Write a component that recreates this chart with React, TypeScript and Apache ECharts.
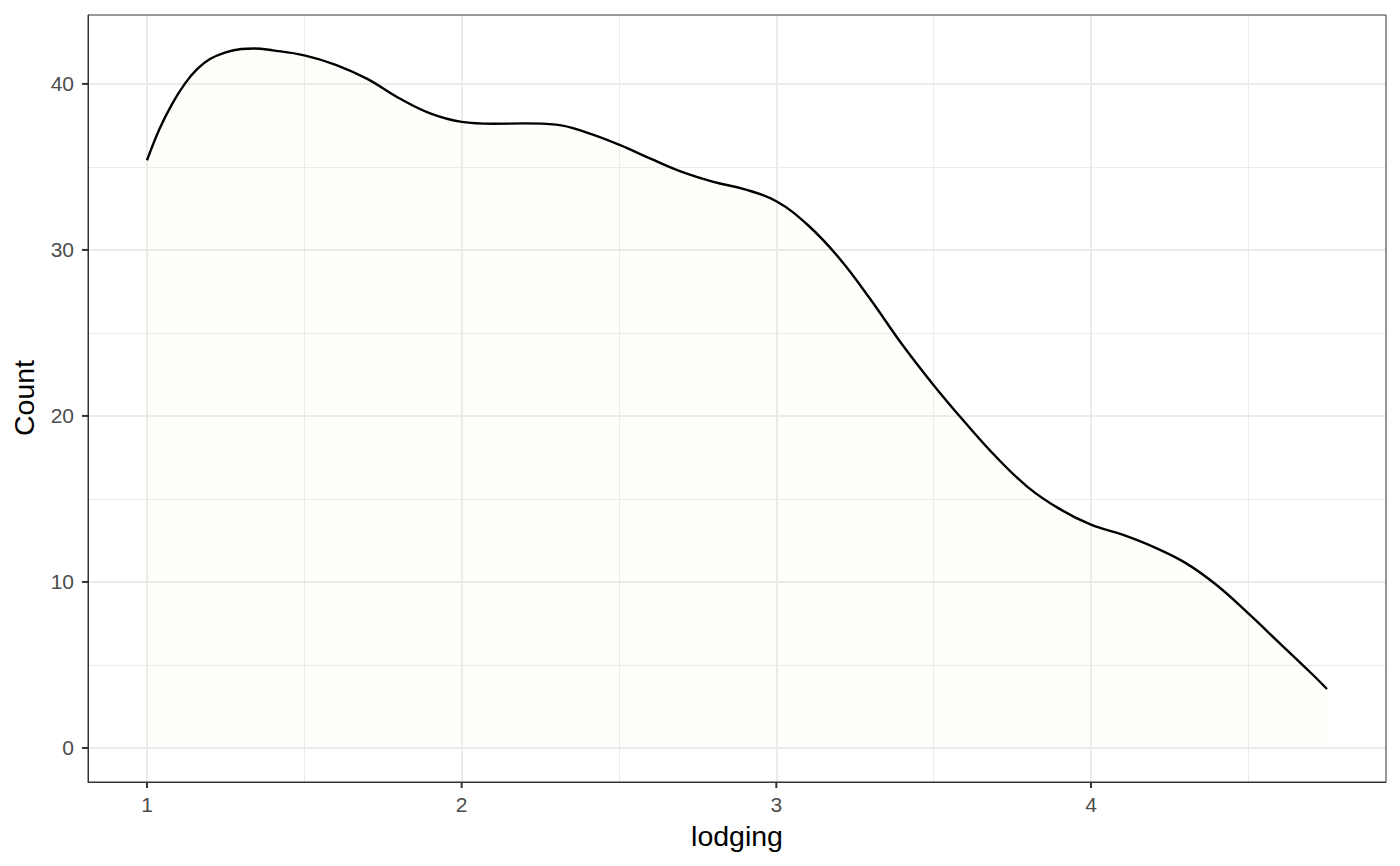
import React, { useEffect, useRef } from "react";
import * as echarts from "echarts";

const lodgingX = [1.0, 1.04, 1.08, 1.12, 1.16, 1.2, 1.25, 1.3, 1.34, 1.4, 1.5, 1.6, 1.7, 1.8, 1.9, 2.0, 2.1, 2.2, 2.3, 2.4, 2.5, 2.6, 2.7, 2.8, 2.9, 3.0, 3.1, 3.2, 3.3, 3.4, 3.5, 3.6, 3.7, 3.8, 3.9, 4.0, 4.1, 4.2, 4.3, 4.4, 4.5, 4.6, 4.7, 4.75];
const countY = [35.4, 37.3, 38.8, 40.0, 40.9, 41.5, 41.9, 42.1, 42.13, 42.02, 41.72, 41.15, 40.3, 39.15, 38.22, 37.71, 37.6, 37.62, 37.55, 37.05, 36.34, 35.5, 34.7, 34.1, 33.65, 32.93, 31.5, 29.5, 27.0, 24.3, 21.85, 19.6, 17.5, 15.7, 14.4, 13.45, 12.85, 12.1, 11.15, 9.8, 8.1, 6.3, 4.5, 3.55];

const xMajor = [1, 2, 3, 4];
const xMinor = [1.5, 2.5, 3.5, 4.5];
const yMajor = [0, 10, 20, 30, 40];
const yMinor = [5, 15, 25, 35];

const FONT = "'Liberation Sans', Arial, Helvetica, sans-serif";

export default function App() {
  const ref = useRef<HTMLDivElement>(null);
  useEffect(() => {
    if (!ref.current) return;
    const chart = echarts.init(ref.current, undefined, { renderer: "svg" });
    const points = lodgingX.map((x, i) => [x, countY[i]]);
    const gridLines: any[] = [
      ...xMinor.map((v) => ({ xAxis: v, lineStyle: { width: 1, color: "#EBEBEB", type: "solid" } })),
      ...yMinor.map((v) => ({ yAxis: v, lineStyle: { width: 1, color: "#EBEBEB", type: "solid" } })),
      ...xMajor.map((v) => ({ xAxis: v, lineStyle: { width: 2, color: "#EBEBEB", type: "solid" } })),
      ...yMajor.map((v) => ({ yAxis: v, lineStyle: { width: 2, color: "#EBEBEB", type: "solid" } })),
    ];
    const axisCommon = {
      type: "value",
      z: 20,
      axisLine: { show: true, onZero: false, lineStyle: { color: "#333333", width: 1 } },
      axisTick: { show: false },
      splitLine: { show: false },
    };
    const titleGraphics: any[] = [
      {
        type: "text",
        x: 24,
        y: 398,
        rotation: Math.PI / 2,
        style: {
          text: "Count",
          fill: "#000000",
          font: `28.5px ${FONT}`,
          align: "center",
          verticalAlign: "middle",
        },
      },
      {
        type: "text",
        x: 737,
        y: 836,
        style: {
          text: "lodging",
          fill: "#000000",
          font: `28.5px ${FONT}`,
          align: "center",
          verticalAlign: "middle",
        },
      },
    ];
    chart.setOption({
      animation: false,
      backgroundColor: "#FFFFFF",
      grid: {
        left: 88,
        right: 14,
        top: 15,
        bottom: 84,
        show: true,
        borderColor: "#333333",
        borderWidth: 1,
        backgroundColor: "transparent",
        z: 10,
      },
      xAxis: {
        ...axisCommon,
        min: 0.8125,
        max: 4.9375,
        axisLabel: {
          customValues: xMajor,
          color: "#4D4D4D",
          fontSize: 21,
          fontFamily: FONT,
          margin: 12,
        },
      },
      yAxis: {
        ...axisCommon,
        min: -2.05,
        max: 44.15,
        axisLabel: {
          customValues: yMajor,
          color: "#4D4D4D",
          fontSize: 21,
          fontFamily: FONT,
          margin: 14,
        },
      },
      series: [
        {
          type: "line",
          z: 1,
          data: [],
          symbol: "none",
          silent: true,
          markLine: {
            z: 1,
            silent: true,
            symbol: ["none", "none"],
            label: { show: false },
            emphasis: { disabled: true },
            data: gridLines,
          },
        },
        {
          type: "line",
          z: 3,
          data: points,
          smooth: 0.4,
          symbol: "none",
          showSymbol: false,
          lineStyle: { color: "#000000", width: 2.4 },
          areaStyle: { color: "rgba(250,240,200,0.13)" },
        },
      ],
      graphic: titleGraphics,
    });

    // axis ticks, positioned through the chart's own scales
    const tickGraphics: any[] = [];
    const bottomPx = chart.convertToPixel({ yAxisIndex: 0 } as any, -2.05) as any as number;
    const leftPx = chart.convertToPixel({ xAxisIndex: 0 } as any, 0.8125) as any as number;
    xMajor.forEach((v) => {
      const px = chart.convertToPixel({ xAxisIndex: 0 } as any, v) as any as number;
      tickGraphics.push({
        type: "rect",
        shape: { x: px - 1, y: bottomPx, width: 2, height: 6 },
        style: { fill: "#333333" },
      });
    });
    yMajor.forEach((v) => {
      const py = chart.convertToPixel({ yAxisIndex: 0 } as any, v) as any as number;
      tickGraphics.push({
        type: "rect",
        shape: { x: leftPx - 6, y: py - 1, width: 6, height: 2 },
        style: { fill: "#333333" },
      });
    });
    chart.setOption({ graphic: [...titleGraphics, ...tickGraphics] }, { replaceMerge: ["graphic"] } as any);
    return () => chart.dispose();
  }, []);
  return (
    <div
      ref={ref}
      style={{ position: "fixed", left: 0, top: 0, width: 1400, height: 866 }}
    />
  );
}
